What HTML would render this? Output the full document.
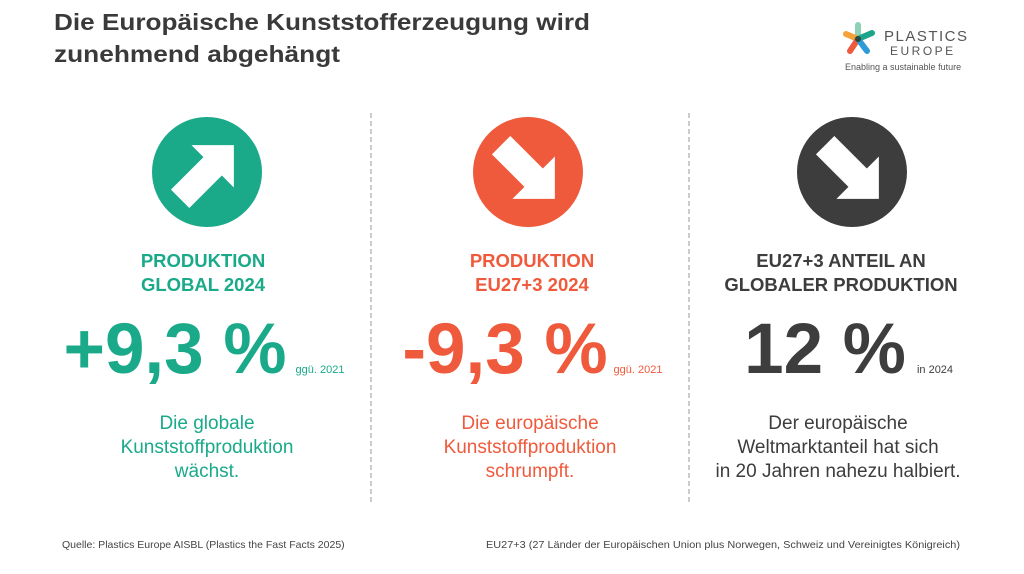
<!DOCTYPE html>
<html><head><meta charset="utf-8"><style>
html,body{margin:0;padding:0;background:#fff;}
svg{display:block;font-family:"Liberation Sans",Arial,sans-serif;}
</style></head><body>
<svg width="1024" height="574" viewBox="0 0 1024 574" xmlns="http://www.w3.org/2000/svg">
<rect width="1024" height="574" fill="#fff"/>
<g font-weight="bold" fill="#3a3a3a" font-size="23">
<text x="54" y="30" textLength="536" lengthAdjust="spacingAndGlyphs">Die Europäische Kunststofferzeugung wird</text>
<text x="54" y="62" textLength="286" lengthAdjust="spacingAndGlyphs">zunehmend abgehängt</text>
</g>
<!-- logo -->
<g stroke-linecap="round" stroke-width="6">
<line x1="858" y1="39" x2="858" y2="25" stroke="#8fd1b5"/>
<line x1="858" y1="39" x2="846" y2="34" stroke="#f5a23a"/>
<line x1="858" y1="39" x2="872" y2="33" stroke="#1aa58a"/>
<line x1="858" y1="39" x2="850" y2="51" stroke="#f05a3c"/>
<line x1="858" y1="39" x2="867" y2="51" stroke="#2f9bd6"/>
</g>
<circle cx="858" cy="39" r="3" fill="#2b4a3a"/>
<text x="884" y="41" font-size="15" fill="#555" letter-spacing="1.5">PLASTICS</text>
<text x="890" y="55" font-size="12" fill="#555" letter-spacing="2.5">EUROPE</text>
<text x="845" y="70" font-size="9" fill="#555">Enabling a sustainable future</text>
<!-- dividers -->
<line x1="371" y1="113" x2="371" y2="502" stroke="#999" stroke-dasharray="5,3" stroke-width="1"/>
<line x1="689" y1="113" x2="689" y2="502" stroke="#999" stroke-dasharray="5,3" stroke-width="1"/>
<!-- icons -->
<g transform="translate(207,172)">
<circle r="55" fill="#1aaa8a"/>
<polygon transform="rotate(-45)" points="-38,-13 8,-13 8,-30 38,0 8,30 8,13 -38,13" fill="#fff"/>
</g>
<g transform="translate(528,172)">
<circle r="55" fill="#f05a3c"/>
<polygon transform="rotate(45)" points="-38,-13 8,-13 8,-30 38,0 8,30 8,13 -38,13" fill="#fff"/>
</g>
<g transform="translate(852,172)">
<circle r="55" fill="#3d3d3d"/>
<polygon transform="rotate(45)" points="-38,-13 8,-13 8,-30 38,0 8,30 8,13 -38,13" fill="#fff"/>
</g>
<!-- column 1 -->
<g fill="#1aaa8a" text-anchor="middle">
<text x="203" y="267" font-size="18.5" font-weight="bold">PRODUKTION</text>
<text x="203" y="291" font-size="18.5" font-weight="bold">GLOBAL 2024</text>
<text x="175" y="373" font-size="71" font-weight="bold">+9,3 %</text>
<text x="320" y="373" font-size="11">ggü. 2021</text>
<text x="207" y="429" font-size="19">Die globale</text>
<text x="207" y="453" font-size="19">Kunststoffproduktion</text>
<text x="207" y="477" font-size="19">wächst.</text>
</g>
<!-- column 2 -->
<g fill="#f05a3c" text-anchor="middle">
<text x="532" y="267" font-size="18.5" font-weight="bold">PRODUKTION</text>
<text x="532" y="291" font-size="18.5" font-weight="bold">EU27+3 2024</text>
<text x="505" y="373" font-size="71" font-weight="bold">-9,3 %</text>
<text x="638" y="373" font-size="11">ggü. 2021</text>
<text x="530" y="429" font-size="19">Die europäische</text>
<text x="530" y="453" font-size="19">Kunststoffproduktion</text>
<text x="530" y="477" font-size="19">schrumpft.</text>
</g>
<!-- column 3 -->
<g fill="#3d3d3d" text-anchor="middle">
<text x="841" y="267" font-size="18.5" font-weight="bold">EU27+3 ANTEIL AN</text>
<text x="841" y="291" font-size="18.5" font-weight="bold">GLOBALER PRODUKTION</text>
<text x="825" y="373" font-size="71" font-weight="bold">12 %</text>
<text x="935" y="373" font-size="11">in 2024</text>
<text x="838" y="429" font-size="19">Der europäische</text>
<text x="838" y="453" font-size="19">Weltmarktanteil hat sich</text>
<text x="838" y="477" font-size="19">in 20 Jahren nahezu halbiert.</text>
</g>
<!-- footer -->
<g fill="#444" font-size="10.5">
<text x="62" y="548">Quelle: Plastics Europe AISBL (Plastics the Fast Facts 2025)</text>
<text x="486" y="548" textLength="474" lengthAdjust="spacingAndGlyphs">EU27+3 (27 Länder der Europäischen Union plus Norwegen, Schweiz und Vereinigtes Königreich)</text>
</g>
</svg>
</body></html>
